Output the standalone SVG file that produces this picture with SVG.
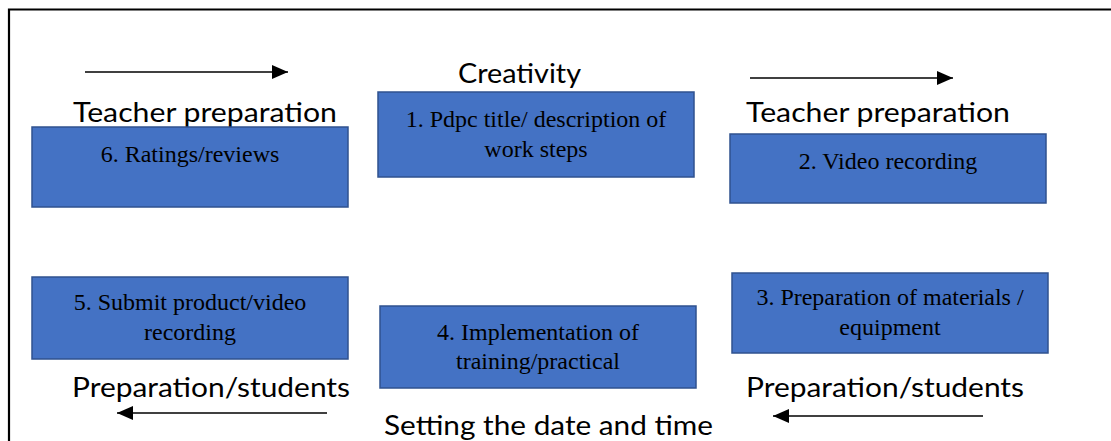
<svg xmlns="http://www.w3.org/2000/svg" width="1111" height="441" viewBox="0 0 1111 441">
<defs>
<style>
.box{fill:#4472C4;stroke:#2F528F;stroke-width:1.5}
.bt{font-family:"Liberation Serif","Times New Roman",serif;font-size:24px;fill:#000;text-anchor:middle}
.lbl{font-family:Lato,"Liberation Sans",sans-serif;font-size:27px;fill:#000}
.conn{stroke:#000;stroke-width:1.5;fill:none}
</style>
<marker id="ahb" viewBox="0 0 16 14" markerWidth="16" markerHeight="14" refX="16" refY="7" orient="auto" markerUnits="userSpaceOnUse">
<path d="M0,0 L16,7 L0,14 Z" fill="#000"/>
</marker>
</defs>
<rect width="1111" height="441" fill="#fff"/>
<path d="M9,441 V9.5 H1111" fill="none" stroke="#000" stroke-width="2.2"/>

<g id="connectors">
<line class="conn" x1="85" y1="72" x2="288" y2="72" marker-end="url(#ahb)"/>
<line class="conn" x1="750" y1="78" x2="953" y2="78" marker-end="url(#ahb)"/>
<line class="conn" x1="327" y1="413" x2="117" y2="413" marker-end="url(#ahb)"/>
<line class="conn" x1="983" y1="416" x2="773" y2="416" marker-end="url(#ahb)"/>
</g>

<g id="labels">
<text class="lbl" x="73" y="122" textLength="264" lengthAdjust="spacingAndGlyphs">Teacher preparation</text>
<text class="lbl" x="458" y="83" textLength="123" lengthAdjust="spacingAndGlyphs">Creativity</text>
<text class="lbl" x="746" y="122" textLength="264" lengthAdjust="spacingAndGlyphs">Teacher preparation</text>
<text class="lbl" x="72" y="397" textLength="278" lengthAdjust="spacingAndGlyphs">Preparation/students</text>
<text class="lbl" x="746" y="397" textLength="278" lengthAdjust="spacingAndGlyphs">Preparation/students</text>
<text class="lbl" x="384" y="435" textLength="329" lengthAdjust="spacingAndGlyphs">Setting the date and time</text>
</g>

<g id="node6">
<rect class="box" x="32" y="127" width="316" height="80"/>
<text class="bt" x="190" y="162">6. Ratings/reviews</text>
</g>
<g id="node1">
<rect class="box" x="378" y="92" width="316" height="85"/>
<text class="bt" x="536" y="127">1. Pdpc title/ description of</text>
<text class="bt" x="536" y="157">work steps</text>
</g>
<g id="node2">
<rect class="box" x="730" y="134" width="316" height="69"/>
<text class="bt" x="888" y="169">2. Video recording</text>
</g>
<g id="node5">
<rect class="box" x="32" y="277" width="316" height="82"/>
<text class="bt" x="190" y="310">5. Submit product/video</text>
<text class="bt" x="190" y="340">recording</text>
</g>
<g id="node4">
<rect class="box" x="380" y="306" width="316" height="82"/>
<text class="bt" x="538" y="340">4. Implementation of</text>
<text class="bt" x="538" y="369">training/practical</text>
</g>
<g id="node3">
<rect class="box" x="732" y="273" width="316" height="80"/>
<text class="bt" x="890" y="305">3. Preparation of materials /</text>
<text class="bt" x="890" y="335">equipment</text>
</g>
</svg>
